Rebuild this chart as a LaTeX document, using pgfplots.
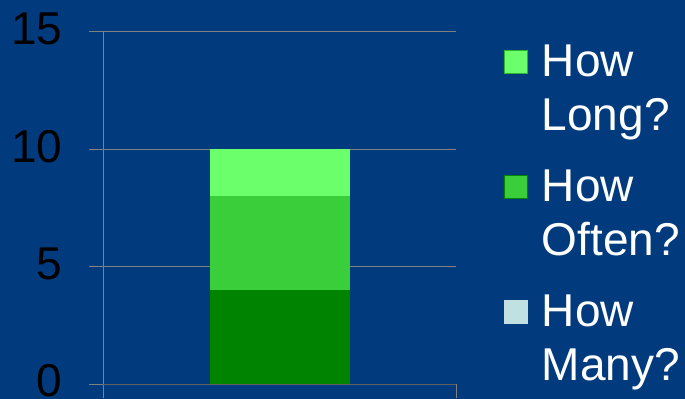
\documentclass[border=0pt]{standalone}
\usepackage{fontspec}
\setmainfont{Liberation Sans}
\usepackage{pgfplots}
\pgfplotsset{compat=1.18}
\definecolor{bg}{RGB}{2,58,126}
\definecolor{gdark}{RGB}{0,132,0}
\definecolor{gmid}{RGB}{58,206,58}
\definecolor{glight}{RGB}{107,255,107}
\definecolor{gmany}{RGB}{192,224,226}
\definecolor{gridc}{RGB}{128,128,128}
\definecolor{axc}{RGB}{96,96,96}
\newcommand{\twoline}[2]{\parbox[t]{150bp}{\raggedright #1\newline #2}}
\begin{document}
\begin{tikzpicture}
\useasboundingbox (0,0) rectangle (685bp,399bp);
\fill[bg] (0,0) rectangle (685bp,399bp);
\begin{axis}[
  at={(103bp,15bp)}, anchor=south west,
  scale only axis, width=353bp, height=352bp,
  xmin=-1, xmax=1, ymin=0, ymax=15,
  axis lines=left,
  axis line style={-, draw=gridc, line width=1bp},
  x axis line style={draw=axc},
  ytick={0,5,10,15},
  xtick={-1,1}, xticklabels={},
  ymajorgrids, grid style={gridc, line width=1bp},
  tick align=outside, major tick length=14bp,
  tick style={gridc, line width=1bp},
  /pgf/number format/assume math mode=true,
  yticklabel style={font=\fontsize{46bp}{46bp}\selectfont, text=black, xshift=-23bp, yshift=3bp},
  ybar stacked, bar width=140bp,
  legend image code/.code={\draw[#1] (0bp,-12bp) rectangle (23bp,11bp);},
  legend style={draw=none, fill=none, at={(1.136,0.965)}, anchor=north west,
    inner sep=0pt, row sep=92bp, column sep=14bp,
    font=\fontsize{46bp}{54bp}\selectfont, text=white,
    nodes={inner sep=0pt}},
]
\addplot[fill=gdark, draw=none, forget plot] coordinates {(0,4)};
\addplot[fill=gmid, draw=none, forget plot] coordinates {(0,4)};
\addplot[fill=glight, draw=none, forget plot] coordinates {(0,2)};
\addlegendimage{fill=glight, draw=gdark!60!glight, line width=0.6bp}
\addlegendentry{\twoline{How}{Long?}}
\addlegendimage{fill=gmid, draw=gdark, line width=0.6bp}
\addlegendentry{\twoline{How}{Often?}}
\addlegendimage{fill=gmany, draw=gmany, line width=0.6bp}
\addlegendentry{\twoline{How}{Many?}}
\end{axis}
\end{tikzpicture}
\end{document}
